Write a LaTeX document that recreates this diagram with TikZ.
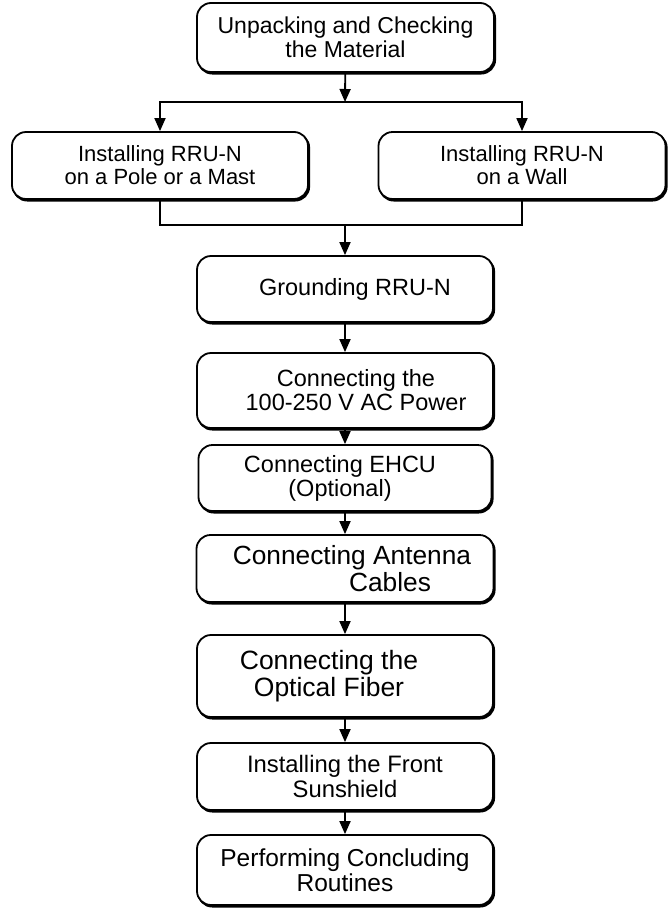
\documentclass[tikz,border=0pt]{standalone}
\usepackage{fontspec}
\setmainfont{Liberation Sans}
\usetikzlibrary{arrows.meta,shadows}

\tikzset{
  flow/.style={line width=1.8pt, -{Triangle[width=11pt,length=13pt]}}
}

\begin{document}
\begin{tikzpicture}[x=1pt,y=-1pt]

        \useasboundingbox (0,0) rectangle (667,908);

        \begin{scope}[every node/.style={draw, rounded corners=14pt, line width=1.8pt, fill=white,
            align=center, inner sep=0pt, minimum width=296pt, minimum height=67pt,
            copy shadow={shadow xshift=1.2pt, shadow yshift=-1.6pt, fill=black}}]
          \node (1)  at (345.5,37.5) [minimum width=297pt, minimum height=69pt, font=\fontsize{23}{23.5}\selectfont]
            {Unpacking and Checking\\the Material};
          \node (2)  at (160,165.5) [font=\fontsize{22}{23}\selectfont]
            {Installing RRU-N\\on a Pole or a Mast};
          \node (3)  at (522,165.5) [minimum width=287pt, font=\fontsize{22}{23}\selectfont]
            {Installing RRU-N\\on a Wall};
          \node (4)  at (345,289) [minimum height=66pt, font=\fontsize{23.5}{24}\selectfont]
            {\hspace*{20pt}Grounding RRU-N};
          \node (5)  at (345,390.5) [minimum height=75pt, font=\fontsize{23.5}{24}\selectfont]
            {\hspace*{22pt}Connecting the\\\hspace*{22pt}100-250 V AC Power};
          \node (6)  at (345,478) [minimum width=293pt, minimum height=66pt, font=\fontsize{23.5}{24}\selectfont]
            {Connecting EHCU\hspace*{10pt}\\(Optional)\hspace*{10pt}};
          \node (7)  at (345,568.5) [minimum width=297pt, font=\fontsize{26.3}{27}\selectfont]
            {\hspace*{14pt}Connecting Antenna\\\hspace*{90pt}Cables};
          \node (8)  at (345,676) [minimum height=82pt, font=\fontsize{26.5}{27}\selectfont]
            {Connecting the\hspace*{32pt}\\Optical Fiber\hspace*{32pt}};
          \node (9)  at (345,776.5) [font=\fontsize{23.8}{24.5}\selectfont]
            {Installing the Front\\Sunshield};
          \node (10) at (345,870) [minimum height=70pt, font=\fontsize{24.5}{25}\selectfont]
            {Performing Concluding\\Routines};
        \end{scope}

        \coordinate (split) at (345,102);
        \coordinate (join)  at (345,225);

        % branch to the two ways of mounting
        \draw[flow] (1) -- (split);
        \draw[flow] (split) -| (2);
        \draw[flow] (split) -| (3);
        \draw[line width=1.8pt] (2) |- (join) -| (3);

        \begin{scope}[every edge/.style={draw, flow}]
          \path (join) edge (4);
          \path (4)    edge (5);
          \path (5)    edge (6);
          \path (6)    edge (7);
          \path (7)    edge (8);
          \path (8)    edge (9);
          \path (9)    edge (10);
        \end{scope}

      \end{tikzpicture}
\end{document}
